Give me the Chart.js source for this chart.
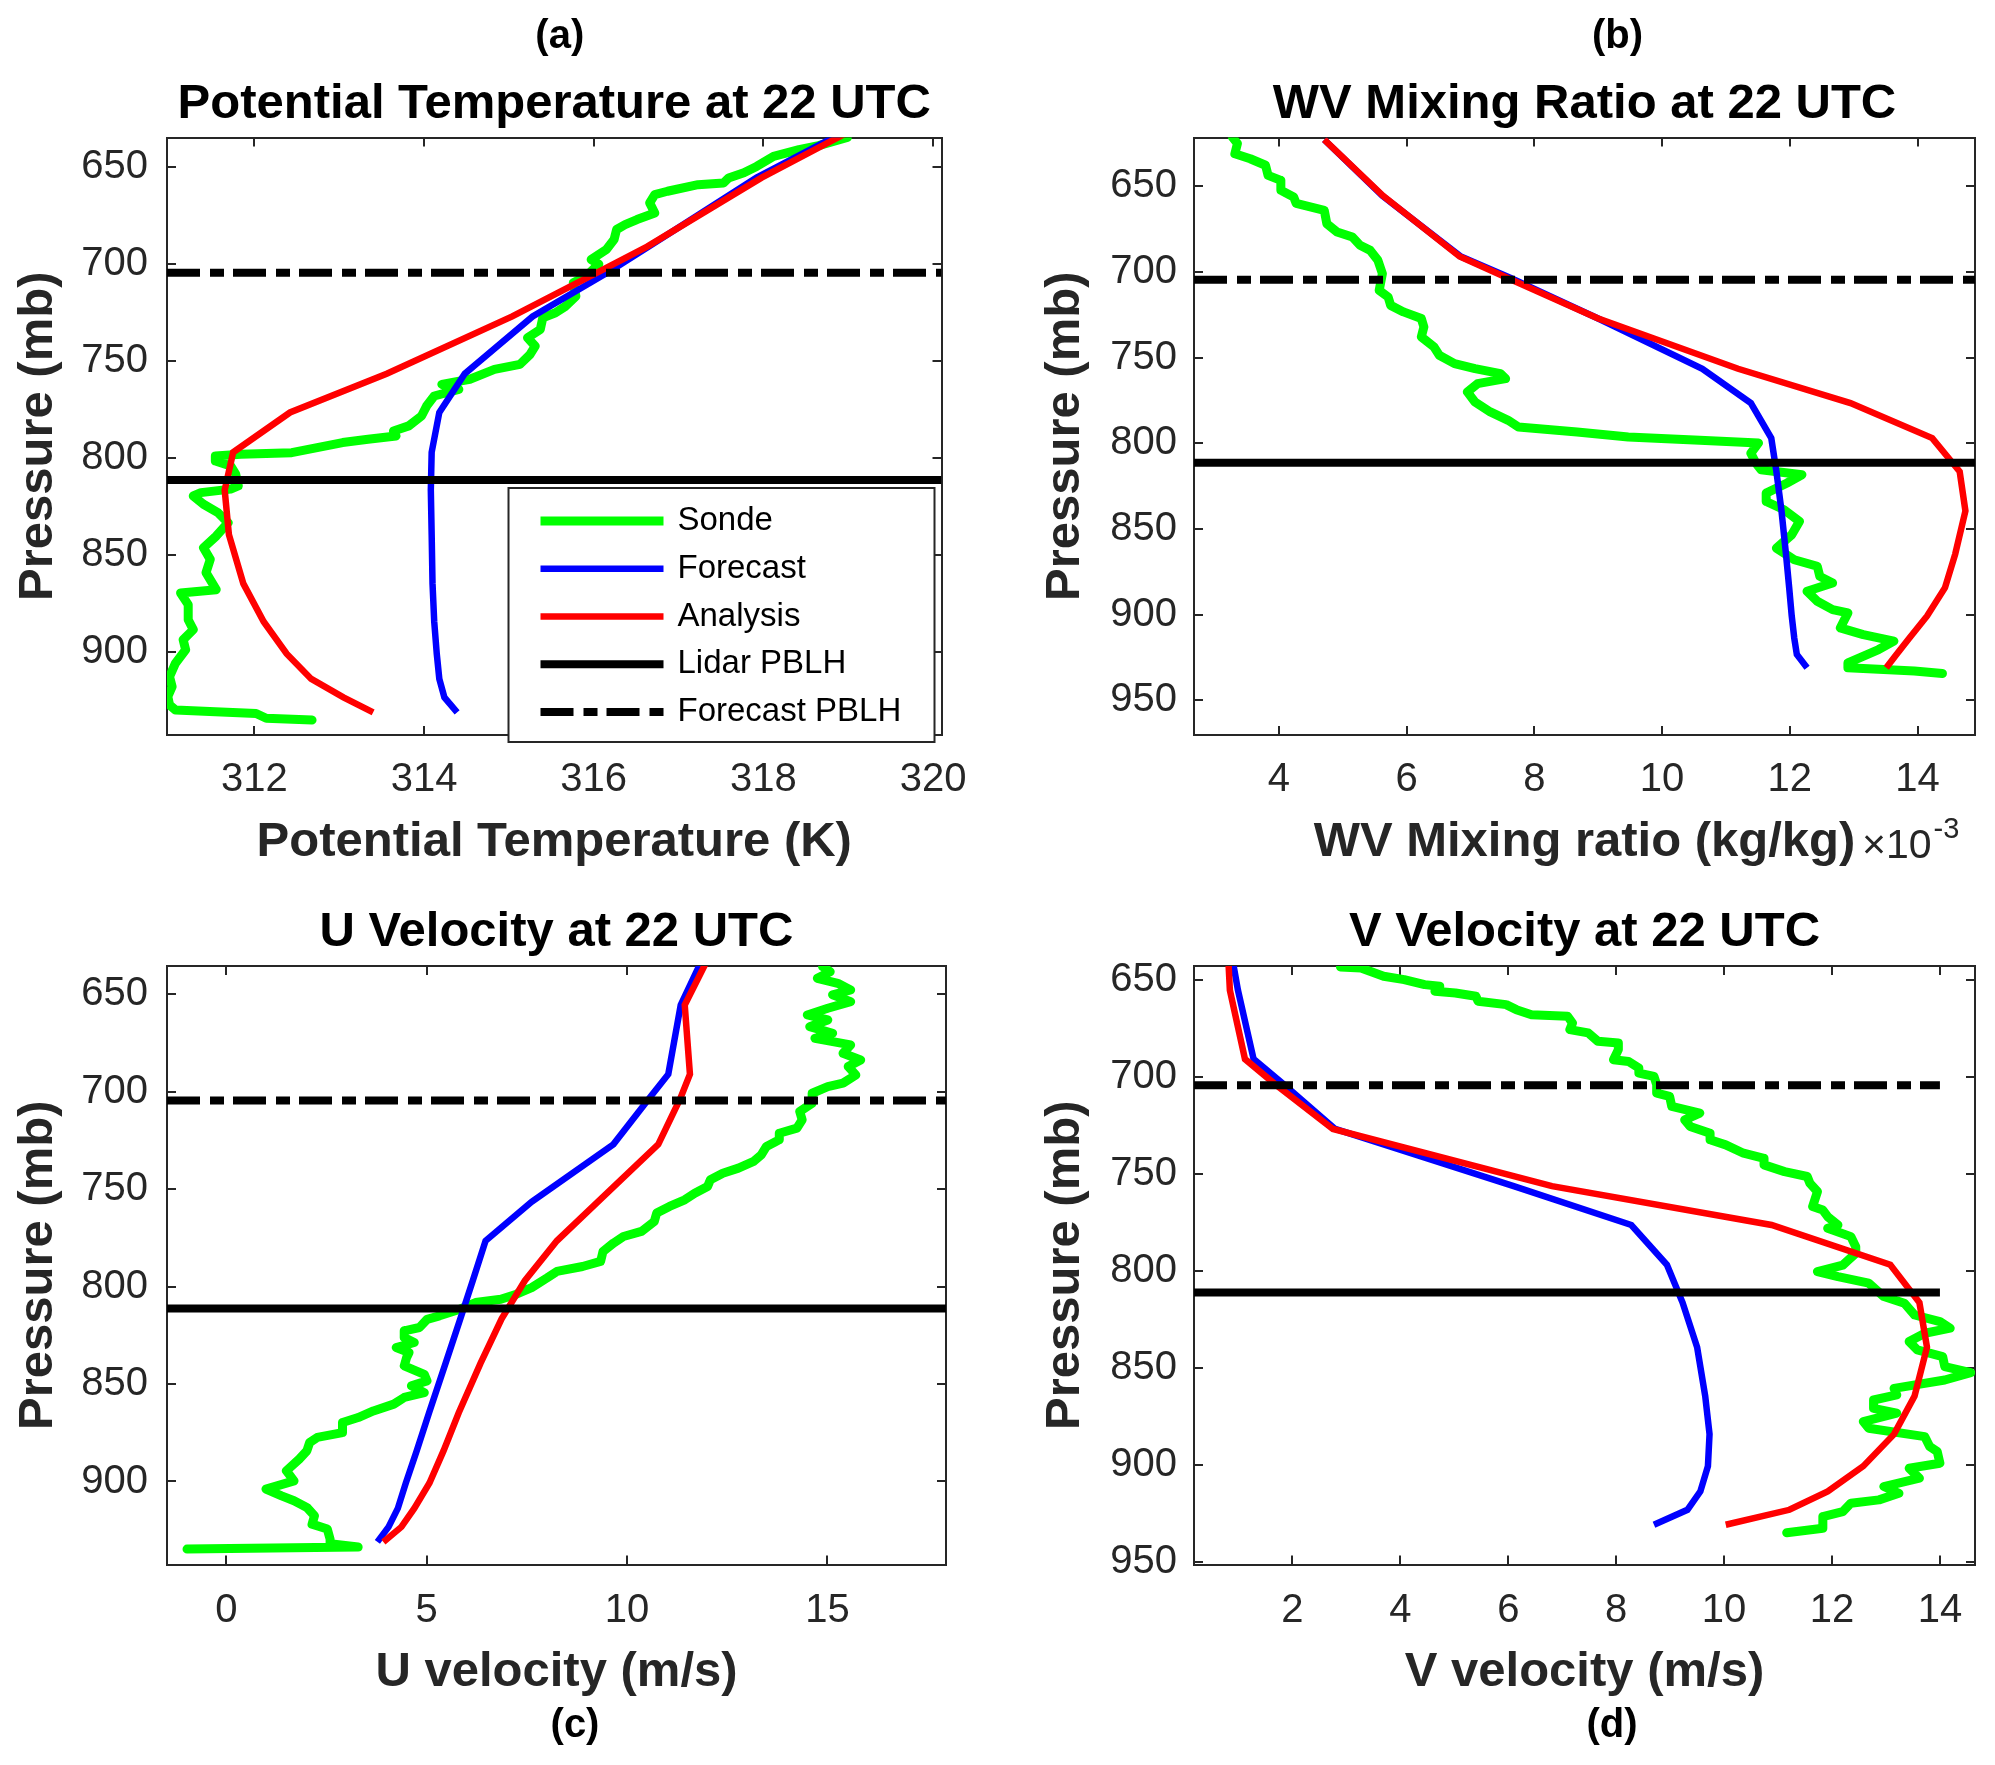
<!DOCTYPE html>
<html>
<head>
<meta charset="utf-8">
<title>Profiles at 22 UTC</title>
<script src="https://cdn.jsdelivr.net/npm/chart.js@4.4.1/dist/chart.umd.min.js"></script>
<style>
  html, body { margin: 0; padding: 0; background: #fff; }
  #wrap { position: relative; width: 1995px; height: 1765px; }
  #wrap canvas { position: absolute; }
</style>
</head>
<body>
<div id="wrap">
  <canvas id="chartA" width="997" height="880" style="left:0px;top:0px"></canvas>
  <canvas id="chartB" width="998" height="880" style="left:997px;top:0px"></canvas>
  <canvas id="chartC" width="997" height="885" style="left:0px;top:880px"></canvas>
  <canvas id="chartD" width="998" height="885" style="left:997px;top:880px"></canvas>
</div>
<script>
// --- data ---

// model levels shared by Forecast and Analysis (mb)
const modelPressure = [622.8, 655.5, 691, 703.5, 727, 756.5, 776.5, 797, 816.5, 839.5, 864.7, 884.3, 900.8, 913.8, 923.3, 931];

// PBLH heights (mb)
const lidarPBLH = 811.3;
const forecastPBLH = 704.5;

// (a) potential temperature (K)
const thetaForecast = [319.35, 317.92, 316.65, 316.2, 315.28, 314.48, 314.18, 314.09, 314.08, 314.09, 314.10, 314.12, 314.15, 314.18, 314.24, 314.39];
const thetaAnalysis = [319.40, 317.98, 316.63, 316.08, 315.04, 313.56, 312.42, 311.75, 311.65, 311.70, 311.87, 312.11, 312.38, 312.67, 313.05, 313.40];
const sondeThetaP = [634.8, 639, 641.1, 644.5, 649.7, 653, 655.7, 658.2, 659.1, 662.5, 664.2, 668.5, 673.7, 677.1, 679.7, 682.2, 687.4, 692.5, 697.7, 700,
  706.3, 709.7, 716.6, 721.7, 725.1, 727.7, 733.7, 738, 742.3, 746.6, 751.7, 754.3, 759.4, 762, 764.6, 768, 773.2, 778.3, 783.4, 786,
  788.6, 790.3, 792, 794.6, 797.2, 798, 798.9, 801.5, 804, 808.3, 814.3, 816, 817.8, 819.5, 823.8, 828.1, 833.3, 840.2, 846.2, 852.2,
  859, 867.8, 869.5, 875.5, 883.3, 888.4, 893.6, 898.8, 905.7, 912.6, 917.8, 922.9, 927.2, 929.8, 930.7, 931.6, 934.1, 935];
const sondeTheta = [318.99, 318.65, 318.42, 318.12, 317.92, 317.77, 317.59, 317.53, 317.23, 316.87, 316.72, 316.66, 316.72, 316.51, 316.37, 316.27, 316.24, 316.15, 315.97, 316.06,
  315.91, 315.76, 315.79, 315.67, 315.55, 315.40, 315.37, 315.22, 315.31, 315.25, 315.13, 314.83, 314.54, 314.21, 314.41, 314.12, 314.03, 313.97, 313.82, 313.64,
  313.67, 313.34, 313.04, 312.74, 312.44, 311.84, 311.54, 311.54, 311.72, 311.78, 311.81, 311.72, 311.37, 311.28, 311.40, 311.57, 311.69, 311.55, 311.40, 311.48,
  311.43, 311.55, 311.13, 311.22, 311.22, 311.28, 311.16, 311.19, 311.07, 311.00, 311.03, 310.98, 311.00, 311.07, 311.54, 312.02, 312.14, 312.68];

// (b) water vapour mixing ratio (x 1e-3 kg/kg)
const qvForecast = [4.71, 5.62, 6.85, 7.63, 8.99, 10.63, 11.39, 11.71, 11.79, 11.87, 11.94, 11.99, 12.03, 12.07, 12.11, 12.27];
const qvAnalysis = [4.71, 5.63, 6.83, 7.58, 8.99, 11.19, 12.95, 14.23, 14.66, 14.75, 14.59, 14.43, 14.15, 13.87, 13.67, 13.51];
const sondeQvP = [621.2, 625, 631, 633.9, 637.7, 643.6, 646.5, 652.3, 656.2, 660, 664, 671.8, 676.7, 679.6, 684.4, 687.4, 693.2, 701, 710.7, 714.6,
  719.5, 723.3, 727.2, 732.1, 737.9, 743.8, 748.6, 753.5, 756.4, 759.3, 762.3, 765.2, 770, 775.9, 781.7, 786.6, 790.5, 793.4, 796.3, 798.2,
  799.8, 805.8, 811.7, 815.5, 818.4, 823.3, 829.1, 834, 838.8, 845.6, 853.4, 861.2, 868, 871.8, 877.7, 881.6, 886.4, 892.2, 897.1, 899,
  907.8, 911.7, 915.5, 920.4, 928.2, 931, 933, 934.4];
const sondeQv = [3.27, 3.35, 3.31, 3.55, 3.79, 3.83, 4.03, 4.03, 4.23, 4.27, 4.71, 4.75, 4.91, 5.15, 5.27, 5.43, 5.55, 5.62, 5.57, 5.71,
  5.75, 5.95, 6.23, 6.27, 6.23, 6.43, 6.51, 6.75, 7.07, 7.47, 7.55, 7.11, 6.95, 7.07, 7.31, 7.59, 7.75, 8.67, 9.47, 10.59,
  11.51, 11.39, 11.47, 11.55, 12.19, 11.95, 11.63, 11.63, 11.91, 12.15, 12.03, 11.79, 12.07, 12.43, 12.47, 12.67, 12.27, 12.43, 12.67, 12.91,
  12.79, 13.15, 13.63, 13.39, 12.91, 12.91, 13.95, 14.39];

// (c) U velocity (m/s)
const uForecast = [12.09, 11.34, 11.03, 10.55, 9.66, 7.62, 6.47, 6.15, 5.84, 5.47, 5.06, 4.75, 4.48, 4.28, 4.05, 3.77];
const uAnalysis = [12.24, 11.44, 11.57, 11.33, 10.78, 9.27, 8.25, 7.45, 6.87, 6.34, 5.80, 5.42, 5.07, 4.69, 4.37, 3.92];
const sondeUP = [635.8, 638.4, 641.8, 644.4, 647.8, 650.3, 653.8, 657.2, 660.6, 663.2, 666.6, 670, 672.6, 676, 680.3, 683.7, 687.1, 691.4, 695.6, 697.4,
  700.8, 705.9, 710.2, 714.4, 718.7, 721.3, 724.7, 728.1, 732.4, 735.8, 739.2, 741.8, 745.2, 748.6, 752.1, 755.5, 758.9, 762.3, 766.6, 771.7,
  774.3, 777.7, 782, 787.1, 789.7, 792.2, 795.6, 800.5, 803.9, 806.5, 808.2, 811.6, 815, 816.8, 821, 822.7, 826.2, 828.7, 831.3, 833.8,
  836.4, 840.7, 845, 848.4, 850.9, 854.4, 856.9, 860.3, 863.8, 867.2, 869.7, 874.9, 877.4, 880, 884.3, 888.5, 894.5, 899.7, 903.9, 907.4,
  909.9, 913.3, 917.6, 921.9, 924.4, 929.6, 932, 933.6, 934.7];
const sondeU = [14.88, 15.07, 14.75, 15.26, 15.58, 15.13, 15.58, 15.01, 14.50, 15.01, 14.56, 15.13, 14.69, 15.58, 15.39, 15.83, 15.52, 15.71, 15.39, 15.01,
  14.62, 14.62, 14.31, 14.37, 14.24, 13.80, 13.80, 13.48, 13.35, 13.16, 12.78, 12.39, 12.08, 12.01, 11.69, 11.44, 11.06, 10.74, 10.68, 10.36,
  9.91, 9.66, 9.40, 9.34, 8.89, 8.25, 8.0, 7.62, 7.24, 6.85, 6.22, 5.83, 5.32, 5.01, 4.82, 4.44, 4.44, 4.69, 4.24, 4.56,
  4.50, 4.44, 4.94, 5.01, 4.62, 4.94, 4.44, 4.18, 3.67, 3.29, 2.90, 2.90, 2.27, 2.08, 2.01, 1.82, 1.50, 1.69, 0.99, 1.38,
  1.69, 2.01, 2.20, 2.14, 2.52, 2.59, 2.59, 3.29, -0.98];

// (d) V velocity (m/s)
const vForecast = [0.78, 0.99, 1.28, 1.82, 2.79, 6.10, 8.28, 8.94, 9.23, 9.50, 9.65, 9.73, 9.70, 9.56, 9.32, 8.70];
const vAnalysis = [0.78, 0.84, 1.12, 1.66, 2.75, 6.81, 10.88, 13.08, 13.62, 13.76, 13.53, 13.15, 12.58, 11.92, 11.21, 10.03];
const sondeVP = [643.5, 644, 648.3, 650, 652.6, 653.4, 656, 656.9, 658.6, 661.2, 662.9, 665.5, 668.1, 668.9, 672.4, 675.8, 677.5, 681.8, 682.7, 686.1,
  691.3, 692.2, 695.6, 698.2, 699.9, 704.2, 708.5, 710.2, 715.4, 718.8, 722.3, 725.7, 729.2, 732.6, 735.2, 739.5, 742.1, 745.5, 749, 751.5,
  755, 759.3, 767, 768.8, 772.2, 776.5, 778.2, 782.5, 787.7, 791.1, 794.6, 797.2, 800.5, 803.1, 806.5, 813.4, 816.8, 822.9, 826.3, 829.7,
  832.3, 836.6, 840.9, 844.3, 849.5, 852.6, 856.4, 860.7, 864.1, 866.7, 871, 873.5, 877.8, 881.3, 885.6, 890.7, 893.3, 899.3, 901.9, 907,
  911.3, 914.8, 918.2, 919.9, 924.2, 926.8, 932.8, 935.1];
const sondeV = [2.89, 3.27, 3.69, 4.07, 4.45, 4.73, 4.64, 5.02, 5.40, 5.44, 5.96, 6.15, 6.43, 7.10, 7.19, 7.14, 7.48, 7.66, 8.04, 8.04,
  7.95, 8.23, 8.42, 8.42, 8.70, 8.75, 8.75, 8.99, 9.03, 9.55, 9.27, 9.37, 9.74, 9.74, 10.03, 10.36, 10.74, 10.74, 11.12, 11.54,
  11.59, 11.73, 11.64, 11.83, 11.92, 12.11, 11.92, 12.35, 12.44, 12.44, 12.30, 12.20, 11.73, 12.11, 12.68, 12.96, 13.34, 13.53, 14.00, 14.19,
  13.72, 13.43, 13.58, 14.05, 14.09, 14.57, 14.09, 13.15, 13.20, 12.77, 12.77, 13.20, 12.58, 12.68, 13.72, 13.81, 13.95, 14.00, 13.43, 13.62,
  12.96, 13.24, 12.87, 12.35, 12.20, 11.83, 11.83, 11.16];

// tick labels
const thetaTicks = [312, 314, 316, 318, 320];
const qvTicks = [4, 6, 8, 10, 12, 14];
const uTicks = [0, 5, 10, 15];
const vTicks = [2, 4, 6, 8, 10, 12, 14];
const pTicksShort = [650, 700, 750, 800, 850, 900];
const pTicksLong = [650, 700, 750, 800, 850, 900, 950];

// --- styling / layout ---

Chart.defaults.font.family = '"Liberation Sans", Arial, Helvetica, sans-serif';
const AXIS_COLOR = '#262626';

// top row keeps room for the panel letter above the title, bottom row below the x label
const rowLayout = {
  top:    { padTop: 60.5, padBottom: 0,  titlePad: { top: 14.1, bottom: 4.1 }, xAxisH: 145,   xTickPad: 30,   xTitlePad: 8.6,
            letterY: area => area.top - 101 },
  bottom: { padTop: 22.6, padBottom: 63, titlePad: { top: 0, bottom: 4.6 },    xAxisH: 137.5, xTickPad: 31.5, xTitlePad: 0,
            letterY: area => area.bottom + 161.5 }
};
const colLayout = {
  left:  { padRight: 51, yAxisW: 167, yTickPad: 28, yTitlePad: 8.6 },
  right: { padRight: 20, yAxisW: 197, yTickPad: 26, yTitlePad: 38.6 }
};

const panels = [
  { id: 'chartA', row: 'top', col: 'left', letter: '(a)', letterDx: 5.5, title: 'Potential Temperature at 22 UTC', xTitle: 'Potential Temperature (K)',
    sonde: sondeTheta, sondeP: sondeThetaP, forecast: thetaForecast, analysis: thetaAnalysis,
    xMin: 310.97, xMax: 320.1, pMin: 634.8, pMax: 942.7, xTicks: thetaTicks, pTicks: pTicksShort, pblhSpan: [310.97, 320.1], legend: true },
  { id: 'chartB', row: 'top', col: 'right', letter: '(b)', letterDx: 33, title: 'WV Mixing Ratio at 22 UTC', xTitle: 'WV Mixing ratio (kg/kg)',
    sonde: sondeQv, sondeP: sondeQvP, forecast: qvForecast, analysis: qvAnalysis,
    xMin: 2.67, xMax: 14.9, pMin: 621.5, pMax: 970.3, xTicks: qvTicks, pTicks: pTicksLong, pblhSpan: [2.67, 14.9], exponent: true },
  { id: 'chartC', row: 'bottom', col: 'left', letter: '(c)', letterDx: 18.5, title: 'U Velocity at 22 UTC', xTitle: 'U velocity (m/s)',
    sonde: sondeU, sondeP: sondeUP, forecast: uForecast, analysis: uAnalysis,
    xMin: -1.48, xMax: 17.96, pMin: 635.5, pMax: 942.6, xTicks: uTicks, pTicks: pTicksShort, pblhSpan: [-1.48, 17.96] },
  { id: 'chartD', row: 'bottom', col: 'right', letter: '(d)', letterDx: 27.5, title: 'V Velocity at 22 UTC', xTitle: 'V velocity (m/s)',
    sonde: sondeV, sondeP: sondeVP, forecast: vForecast, analysis: vAnalysis,
    xMin: 0.175, xMax: 14.65, pMin: 643.0, pMax: 951.5, xTicks: vTicks, pTicks: pTicksLong, pblhSpan: [0.175, 14] }
];

// --- helpers ---

function profilePoints(values, pressures) {
  const n = Math.min(values.length, pressures.length);
  const pts = [];
  for (let i = 0; i < n; i++) pts.push({ x: values[i], y: pressures[i] });
  return pts;
}

function levelPoints(pressure, span) {
  return span.map(x => ({ x: x, y: pressure }));
}

function ticksFrom(list) {
  return scale => { scale.ticks = list.map(v => ({ value: v })); };
}

// MATLAB-style legend box drawn from the datasets themselves
const profileLegend = {
  id: 'profileLegend',
  afterDraw(chart, args, opts) {
    if (!opts.show) return;
    const { ctx, chartArea } = chart;
    const left = chartArea.right - 433;
    const top = chartArea.bottom - 247;
    ctx.save();
    ctx.fillStyle = '#fff';
    ctx.fillRect(left, top, 426, 254);
    ctx.strokeStyle = AXIS_COLOR;
    ctx.lineWidth = 2;
    ctx.strokeRect(left, top, 426, 254);
    ctx.font = '33px "Liberation Sans", Arial, sans-serif';
    ctx.textBaseline = 'middle';
    chart.data.datasets.forEach((ds, i) => {
      const y = top + 33 + i * 47.75;
      ctx.beginPath();
      ctx.setLineDash(ds.borderDash || []);
      ctx.strokeStyle = ds.borderColor;
      ctx.lineWidth = ds.borderWidth;
      ctx.moveTo(left + 32, y);
      ctx.lineTo(left + 155, y);
      ctx.stroke();
      ctx.setLineDash([]);
      ctx.fillStyle = '#000';
      ctx.fillText(ds.label, left + 169, y);
    });
    ctx.restore();
  }
};

// "x10^-3" multiplier at the end of the x axis
const exponentLabel = {
  id: 'exponentLabel',
  afterDraw(chart, args, opts) {
    if (!opts.show) return;
    const { ctx, chartArea } = chart;
    const x = chartArea.right - 113;
    const y = chartArea.bottom + 112;
    ctx.save();
    ctx.fillStyle = AXIS_COLOR;
    ctx.textBaseline = 'middle';
    ctx.font = '41px "Liberation Sans", Arial, sans-serif';
    ctx.fillText('\u00d710', x, y);
    const w = ctx.measureText('\u00d710').width;
    ctx.font = '29px "Liberation Sans", Arial, sans-serif';
    ctx.fillText('-3', x + w + 2, y - 17);
    ctx.restore();
  }
};

// (a)..(d) panel letters, slightly right of the axes centre as in the figure
const panelLetter = {
  id: 'panelLetter',
  afterDraw(chart, args, opts) {
    if (!opts.text) return;
    const { ctx, chartArea } = chart;
    ctx.save();
    ctx.fillStyle = '#000';
    ctx.textAlign = 'center';
    ctx.textBaseline = 'middle';
    ctx.font = 'bold 40px "Liberation Sans", Arial, sans-serif';
    ctx.fillText(opts.text, (chartArea.left + chartArea.right) / 2 + opts.dx, opts.y(chartArea));
    ctx.restore();
  }
};

function drawPanel(panel) {
  const row = rowLayout[panel.row];
  const col = colLayout[panel.col];
  const canvas = document.getElementById(panel.id);

  const edgeGrid = { drawOnChartArea: false, drawTicks: true, tickLength: -9, color: AXIS_COLOR, lineWidth: 2 };
  const edgeBorder = { display: true, color: AXIS_COLOR, width: 2 };
  const tickFont = { size: 40 };
  const labelFont = { size: 49, weight: 'bold' };

  const datasets = [
    { label: 'Sonde', data: profilePoints(panel.sonde, panel.sondeP), borderColor: '#00ff00', borderWidth: 9,
      borderJoinStyle: 'round', borderCapStyle: 'round', order: 5 },
    { label: 'Forecast', data: profilePoints(panel.forecast, modelPressure), borderColor: '#0000ff', borderWidth: 6.5, order: 4 },
    { label: 'Analysis', data: profilePoints(panel.analysis, modelPressure), borderColor: '#ff0000', borderWidth: 6.5, order: 3 },
    { label: 'Lidar PBLH', data: levelPoints(lidarPBLH, panel.pblhSpan), borderColor: '#000000', borderWidth: 8, order: 2 },
    { label: 'Forecast PBLH', data: levelPoints(forecastPBLH, panel.pblhSpan), borderColor: '#000000', borderWidth: 8,
      borderDash: [33, 10, 14, 9], order: 1 }
  ];
  datasets.forEach(ds => {
    ds.showLine = true;
    ds.pointRadius = 0;
    ds.tension = 0;
    ds.clip = 0;
  });

  return new Chart(canvas, {
    type: 'scatter',
    data: { datasets: datasets },
    options: {
      responsive: false,
      animation: false,
      devicePixelRatio: 1,
      events: [],
      layout: { padding: { top: row.padTop, right: col.padRight, bottom: row.padBottom, left: 0 } },
      scales: {
        x: {
          type: 'linear', position: 'bottom', min: panel.xMin, max: panel.xMax,
          afterBuildTicks: ticksFrom(panel.xTicks),
          afterFit: s => { s.height = row.xAxisH; },
          grid: edgeGrid, border: edgeBorder,
          ticks: { font: tickFont, color: AXIS_COLOR, padding: row.xTickPad, minRotation: 0, maxRotation: 0, autoSkip: false,
                   callback: v => String(v) },
          title: { display: true, text: panel.xTitle, color: AXIS_COLOR, font: labelFont,
                   padding: { top: 0, bottom: row.xTitlePad } }
        },
        x2: {
          type: 'linear', position: 'top', min: panel.xMin, max: panel.xMax,
          afterBuildTicks: ticksFrom(panel.xTicks),
          afterFit: s => { s.height = 0; },
          grid: edgeGrid, border: edgeBorder,
          ticks: { display: false }
        },
        y: {
          type: 'linear', position: 'left', reverse: true, min: panel.pMin, max: panel.pMax,
          afterBuildTicks: ticksFrom(panel.pTicks),
          afterFit: s => { s.width = col.yAxisW; },
          grid: edgeGrid, border: edgeBorder,
          ticks: { font: tickFont, color: AXIS_COLOR, padding: col.yTickPad, autoSkip: false, callback: v => String(v) },
          title: { display: true, text: 'Pressure (mb)', color: AXIS_COLOR, font: labelFont,
                   padding: { top: col.yTitlePad, bottom: 0 } }
        },
        y2: {
          type: 'linear', position: 'right', reverse: true, min: panel.pMin, max: panel.pMax,
          afterBuildTicks: ticksFrom(panel.pTicks),
          afterFit: s => { s.width = 0; },
          grid: edgeGrid, border: edgeBorder,
          ticks: { display: false }
        }
      },
      plugins: {
        legend: { display: false },
        tooltip: { enabled: false },
        title: {
          display: true, text: panel.title, position: 'top', fullSize: false,
          color: '#000', font: { size: 49, weight: 'bold' }, padding: row.titlePad
        },
        panelLetter: { text: panel.letter, dx: panel.letterDx, y: row.letterY },
        profileLegend: { show: !!panel.legend },
        exponentLabel: { show: !!panel.exponent }
      }
    },
    plugins: [profileLegend, exponentLabel, panelLetter]
  });
}

document.addEventListener('DOMContentLoaded', () => {
  panels.forEach(drawPanel);
});
</script>
</body>
</html>
